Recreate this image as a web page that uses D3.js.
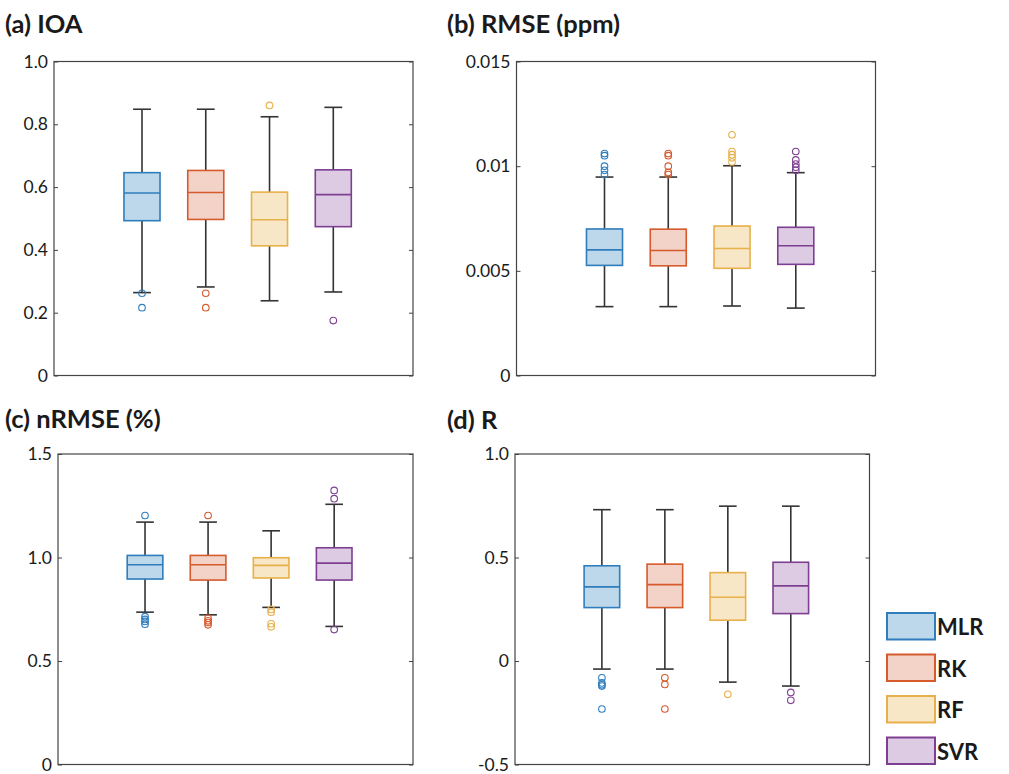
<!DOCTYPE html>
<html>
<head>
<meta charset="utf-8">
<script src="https://cdn.jsdelivr.net/npm/d3@7"></script>
<style>
  body { margin: 0; background: #fff; }
  svg text { font-family: Lato, "Liberation Sans", sans-serif; fill: #1a1a1a; }
</style>
</head>
<body>
<svg id="chart" width="1009" height="774"></svg>
<script>
const models = ["MLR", "RK", "RF", "SVR"];
const strokeColors = ["#2f7dbd", "#d65a2c", "#e8b04a", "#7e3f93"];
const fillColors = ["#bcd8ea", "#f3d3c7", "#f7e7c6", "#dccbe2"];

// [lower whisker, q1, median, q3, upper whisker] per model
const ioaStats = [
  [0.264, 0.493, 0.581, 0.646, 0.848],
  [0.282, 0.497, 0.583, 0.653, 0.848],
  [0.238, 0.413, 0.496, 0.584, 0.824],
  [0.266, 0.474, 0.576, 0.655, 0.854],
];
const ioaOutliers = [[0.262, 0.216], [0.262, 0.216], [0.860], [0.175]];

const rmseStats = [
  [0.00329, 0.00526, 0.00600, 0.00700, 0.00948],
  [0.00329, 0.00524, 0.00597, 0.00699, 0.00948],
  [0.00332, 0.00512, 0.00607, 0.00714, 0.01002],
  [0.00322, 0.00531, 0.00620, 0.00708, 0.00969],
];
const rmseOutliers = [
  [0.0096, 0.0098, 0.0100, 0.0105, 0.0106],
  [0.0096, 0.0097, 0.0100, 0.0105, 0.0106],
  [0.0102, 0.0104, 0.01055, 0.0107, 0.0115],
  [0.0098, 0.00995, 0.0101, 0.0103, 0.0107],
];

const nrmseStats = [
  [0.736, 0.896, 0.965, 1.010, 1.171],
  [0.723, 0.891, 0.965, 1.010, 1.171],
  [0.759, 0.901, 0.962, 0.999, 1.129],
  [0.667, 0.891, 0.973, 1.047, 1.257],
];
const nrmseOutliers = [
  [1.203, 0.714, 0.701, 0.691, 0.678],
  [1.203, 0.706, 0.694, 0.686, 0.675],
  [0.749, 0.736, 0.680, 0.665],
  [1.284, 1.324, 0.652],
];

const rStats = [
  [-0.039, 0.258, 0.358, 0.460, 0.731],
  [-0.039, 0.258, 0.369, 0.468, 0.731],
  [-0.102, 0.197, 0.308, 0.427, 0.748],
  [-0.121, 0.229, 0.363, 0.477, 0.748],
];
const rOutliers = [
  [-0.081, -0.106, -0.115, -0.121, -0.232],
  [-0.081, -0.113, -0.232],
  [-0.161],
  [-0.152, -0.190],
];

const ioaTicks = [0, 0.2, 0.4, 0.6, 0.8, 1.0];
const ioaLabels = ["0", "0.2", "0.4", "0.6", "0.8", "1.0"];
const rmseTicks = [0, 0.005, 0.01, 0.015];
const rmseLabels = ["0", "0.005", "0.01", "0.015"];
const nrmseTicks = [0, 0.5, 1.0, 1.5];
const nrmseLabels = ["0", "0.5", "1.0", "1.5"];
const rTicks = [-0.5, 0, 0.5, 1.0];
const rLabels = ["-0.5", "0", "0.5", "1.0"];

const svg = d3.select("#chart");

const panels = [
  { title: "(a) IOA", tx: 5, ty: 33, left: 54, right: 413, top: 61.5, bottom: 375.5,
    ylim: [0, 1], stats: ioaStats, outliers: ioaOutliers, ticks: ioaTicks, labels: ioaLabels },
  { title: "(b) RMSE (ppm)", tx: 447, ty: 33, left: 516.5, right: 875.5, top: 61.5, bottom: 375.5,
    ylim: [0, 0.015], stats: rmseStats, outliers: rmseOutliers, ticks: rmseTicks, labels: rmseLabels },
  { title: "(c) nRMSE (%)", tx: 5, ty: 428, left: 58, right: 413, top: 454, bottom: 764.5,
    ylim: [0, 1.5], stats: nrmseStats, outliers: nrmseOutliers, ticks: nrmseTicks, labels: nrmseLabels },
  { title: "(d) R", tx: 447, ty: 429, left: 515, right: 869.5, top: 454, bottom: 764.5,
    ylim: [-0.5, 1], stats: rStats, outliers: rOutliers, ticks: rTicks, labels: rLabels },
];

function drawPanel(p) {
  const w = p.right - p.left;
  const h = p.bottom - p.top;
  const g = svg.append("g").attr("transform", `translate(${p.left},${p.top})`);

  // boxes sit at 1..4 on a matlab-ish xlim
  const x = d3.scaleLinear().domain([-0.38, 5.25]).range([0, w]);
  const y = d3.scaleLinear().domain(p.ylim).range([h, 0]);
  const boxW = x(0.565) - x(0);
  const capW = x(0.28) - x(0);

  svg.append("text")
    .attr("x", p.tx).attr("y", p.ty)
    .attr("font-size", 25.5).attr("font-weight", "bold")
    .text(p.title);

  const yAxis = d3.axisLeft(y).tickValues(p.ticks)
    .tickFormat((d, i) => p.labels[i])
    .tickSizeInner(-4).tickSizeOuter(0).tickPadding(6);
  const ga = g.append("g").call(yAxis);
  ga.select(".domain").remove();
  ga.selectAll("line").attr("stroke", "#444");
  ga.selectAll("text").attr("font-size", 17.5).attr("fill", "#1a1a1a")
    .style("font-family", "Lato, sans-serif");

  const yRight = d3.axisRight(y).tickValues(p.ticks).tickFormat("")
    .tickSizeInner(-4).tickSizeOuter(0);
  const gr = g.append("g").attr("transform", `translate(${w},0)`).call(yRight);
  gr.select(".domain").remove();
  gr.selectAll("line").attr("stroke", "#444");

  p.stats.forEach((s, i) => {
    const cx = x(i + 1);
    const [lo, q1, med, q3, hi] = s;
    // whiskers
    g.append("line").attr("x1", cx).attr("x2", cx).attr("y1", y(q3)).attr("y2", y(hi))
      .attr("stroke", "#333").attr("stroke-width", 1.6);
    g.append("line").attr("x1", cx).attr("x2", cx).attr("y1", y(q1)).attr("y2", y(lo))
      .attr("stroke", "#333").attr("stroke-width", 1.6);
    [lo, hi].forEach(v => {
      g.append("line").attr("x1", cx - capW / 2).attr("x2", cx + capW / 2)
        .attr("y1", y(v)).attr("y2", y(v))
        .attr("stroke", "#333").attr("stroke-width", 1.6);
    });
    // box
    g.append("rect")
      .attr("x", cx - boxW / 2).attr("y", y(q3))
      .attr("width", boxW).attr("height", y(q1) - y(q3))
      .attr("fill", fillColors[i])
      .attr("stroke", strokeColors[i]).attr("stroke-width", 1.6);
    g.append("line").attr("x1", cx - boxW / 2).attr("x2", cx + boxW / 2)
      .attr("y1", y(med)).attr("y2", y(med))
      .attr("stroke", strokeColors[i]).attr("stroke-width", 1.6);
    // outliers
    g.selectAll(null).data(p.outliers[i]).join("circle")
      .attr("cx", cx).attr("cy", d => y(d)).attr("r", 3.3)
      .attr("fill", "none").attr("stroke", strokeColors[i]).attr("stroke-width", 1.1);
  });

  g.append("rect").attr("width", w).attr("height", h)
    .attr("fill", "none").attr("stroke", "#444").attr("stroke-width", 1.2);
}

panels.forEach(drawPanel);

// legend
const legend = svg.append("g").attr("transform", "translate(887,613)");
models.forEach((m, i) => {
  const row = legend.append("g").attr("transform", `translate(0,${i * 41.5})`);
  row.append("rect").attr("width", 48).attr("height", 26.5)
    .attr("fill", fillColors[i]).attr("stroke", strokeColors[i]).attr("stroke-width", 2);
  row.append("text").attr("x", 50).attr("y", 22)
    .attr("font-size", 22).attr("font-weight", "bold").text(m);
});
</script>
</body>
</html>
